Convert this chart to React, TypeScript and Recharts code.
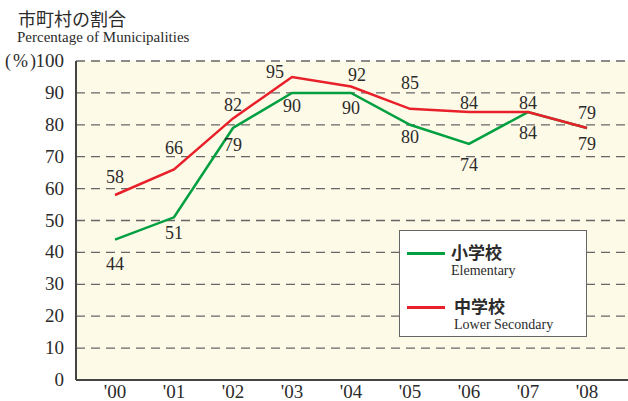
import { LineChart, Line, XAxis, YAxis, CartesianGrid, LabelList } from "recharts";

const years = ["'00", "'01", "'02", "'03", "'04", "'05", "'06", "'07", "'08"];
const elementary = [44, 51, 79, 90, 90, 80, 74, 84, 79];
const lowerSecondary = [58, 66, 82, 95, 92, 85, 84, 84, 79];
const yTicks = [0, 10, 20, 30, 40, 50, 60, 70, 80, 90, 100];

const data = years.map((year, i) => ({
  year,
  elementary: elementary[i],
  lowerSecondary: lowerSecondary[i],
}));

const serif = "Liberation Serif";
const cjk = "Noto Sans CJK JP";
const GREEN = "#00A040";
const RED = "#E8202A";
const INK = "#2b2b2b";

// label nudges, as hand-placed in the original figure
const greenDy = [24, 16, 17, 13, 15, 12, 21, 21, 16];
const redDy = [-18, -21, -13, -5, -12, -26, -9, -9, -15];
const redDx = [0, 0, 0, -17, 6, 0, 0, 0, 0];

const makeLabel = (dys: number[], dxs?: number[]) => (props: any) => {
  const { x, y, value, index } = props;
  return (
    <text
      x={x + (dxs ? dxs[index] : 0)}
      y={y + dys[index] + 6}
      textAnchor="middle"
      style={{ fontFamily: serif, fontSize: 18, fill: INK }}
    >
      {value}
    </text>
  );
};

const XTick = (props: any) => {
  const { x, y, payload } = props;
  return (
    <text x={x} y={y + 10} textAnchor="middle" style={{ fontFamily: serif, fontSize: 19, fill: INK }}>
      {payload.value}
    </text>
  );
};

const YTick = (props: any) => {
  const { x, y, payload } = props;
  return (
    <text x={x - 4} y={y + 6} textAnchor="end" style={{ fontFamily: serif, fontSize: 19, fill: INK }}>
      {payload.value}
    </text>
  );
};

const App = () => {
  return (
    <div style={{ position: "absolute", left: 0, top: 0, width: 628, height: 401, background: "#fff", fontFamily: serif }}>
      <div style={{ position: "absolute", left: 18, top: 7, fontFamily: cjk, fontSize: 18, color: INK, lineHeight: "22px" }}>
        市町村の割合
      </div>
      <div style={{ position: "absolute", left: 17, top: 29, fontSize: 15, color: INK, lineHeight: "17px" }}>
        Percentage of Municipalities
      </div>
      <div style={{ position: "absolute", left: 5, top: 50, fontSize: 18, color: INK, lineHeight: "22px", letterSpacing: 2 }}>
        (%)
      </div>
      <LineChart
        width={628}
        height={401}
        data={data}
        margin={{ top: 61, right: 0, bottom: 0, left: 0 }}
      >
        <CartesianGrid
          horizontal
          vertical={false}
          fill="#FEFAE8"
          stroke="#666"
          strokeDasharray="9 6"
          strokeWidth={1.3}
        />
        <XAxis
          dataKey="year"
          padding={{ left: 39, right: 41 }}
          tickLine={false}
          axisLine={{ stroke: "#444", strokeWidth: 2 }}
          height={21}
          tick={<XTick />}
          interval={0}
        />
        <YAxis
          domain={[0, 100]}
          ticks={yTicks}
          width={76}
          tickLine={false}
          axisLine={{ stroke: "#444", strokeWidth: 2 }}
          tick={<YTick />}
          interval={0}
        />
        <Line
          dataKey="elementary"
          stroke={GREEN}
          strokeWidth={2.5}
          dot={false}
          isAnimationActive={false}
        >
          <LabelList dataKey="elementary" content={makeLabel(greenDy)} />
        </Line>
        <Line
          dataKey="lowerSecondary"
          stroke={RED}
          strokeWidth={2.5}
          dot={false}
          isAnimationActive={false}
        >
          <LabelList dataKey="lowerSecondary" content={makeLabel(redDy, redDx)} />
        </Line>
      </LineChart>
      <div
        style={{
          position: "absolute",
          left: 399,
          top: 230,
          width: 186,
          height: 105,
          background: "#fff",
          border: "1px solid #666",
        }}
      >
        <div style={{ position: "absolute", left: 7, top: 21, width: 38, height: 3, background: GREEN }} />
        <div style={{ position: "absolute", left: 51, top: 12, fontFamily: cjk, fontWeight: 700, fontSize: 17, color: INK, lineHeight: "17px" }}>
          小学校
        </div>
        <div style={{ position: "absolute", left: 51, top: 32, fontSize: 14, color: INK, lineHeight: "16px" }}>
          Elementary
        </div>
        <div style={{ position: "absolute", left: 7, top: 75, width: 38, height: 3, background: RED }} />
        <div style={{ position: "absolute", left: 54, top: 66, fontFamily: cjk, fontWeight: 700, fontSize: 17, color: INK, lineHeight: "17px" }}>
          中学校
        </div>
        <div style={{ position: "absolute", left: 54, top: 86, fontSize: 14, color: INK, lineHeight: "16px" }}>
          Lower Secondary
        </div>
      </div>
    </div>
  );
};

export default App;
